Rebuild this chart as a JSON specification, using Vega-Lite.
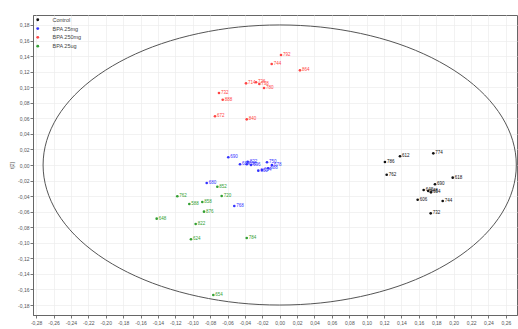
{
  "$schema": "https://vega.github.io/schema/vega-lite/v6.json",
  "width": 484,
  "height": 300,
  "autosize": "none",
  "padding": {"left": 33, "top": 15, "right": 1, "bottom": 14},
  "background": "white",
  "config": {
    "locale": {"number": {"decimal": ",", "thousands": ".", "grouping": [3], "currency": ["", ""], "minus": "-"}},
    "view": {"stroke": "#666666", "strokeWidth": 1},
    "font": "Liberation Sans"
  },
  "datasets": {
    "pts": [
      {"g": "BPA 250mg", "x": 0.0015, "y": 0.1414, "id": "792"},
      {"g": "BPA 250mg", "x": -0.0092, "y": 0.1298, "id": "744"},
      {"g": "BPA 250mg", "x": 0.0233, "y": 0.1217, "id": "864"},
      {"g": "BPA 250mg", "x": -0.0387, "y": 0.1050, "id": "714"},
      {"g": "BPA 250mg", "x": -0.0272, "y": 0.1063, "id": "726"},
      {"g": "BPA 250mg", "x": -0.0234, "y": 0.1041, "id": "738"},
      {"g": "BPA 250mg", "x": -0.0180, "y": 0.0990, "id": "780"},
      {"g": "BPA 250mg", "x": -0.0698, "y": 0.0925, "id": "732"},
      {"g": "BPA 250mg", "x": -0.0655, "y": 0.0839, "id": "888"},
      {"g": "BPA 250mg", "x": -0.0744, "y": 0.0626, "id": "672"},
      {"g": "BPA 250mg", "x": -0.0379, "y": 0.0587, "id": "840"},
      {"g": "BPA 25mg", "x": -0.0591, "y": 0.0099, "id": "690"},
      {"g": "BPA 25mg", "x": -0.0456, "y": 0.0009, "id": "684"},
      {"g": "BPA 25mg", "x": -0.0368, "y": 0.0042, "id": "822"},
      {"g": "BPA 25mg", "x": -0.0379, "y": 0.0009, "id": "666"},
      {"g": "BPA 25mg", "x": -0.0330, "y": 0.0, "id": "696"},
      {"g": "BPA 25mg", "x": -0.0246, "y": -0.0073, "id": "660"},
      {"g": "BPA 25mg", "x": -0.0203, "y": -0.0064, "id": "654"},
      {"g": "BPA 25mg", "x": -0.0146, "y": 0.0035, "id": "750"},
      {"g": "BPA 25mg", "x": -0.0131, "y": -0.0042, "id": "888"},
      {"g": "BPA 25mg", "x": -0.0089, "y": 0.0, "id": "678"},
      {"g": "BPA 25mg", "x": -0.0839, "y": -0.0231, "id": "680"},
      {"g": "BPA 25mg", "x": -0.0522, "y": -0.0527, "id": "768"},
      {"g": "BPA 25ug", "x": -0.0717, "y": -0.0279, "id": "852"},
      {"g": "BPA 25ug", "x": -0.1177, "y": -0.0402, "id": "762"},
      {"g": "BPA 25ug", "x": -0.0667, "y": -0.0398, "id": "720"},
      {"g": "BPA 25ug", "x": -0.1039, "y": -0.0501, "id": "588"},
      {"g": "BPA 25ug", "x": -0.0890, "y": -0.0476, "id": "858"},
      {"g": "BPA 25ug", "x": -0.0870, "y": -0.0600, "id": "876"},
      {"g": "BPA 25ug", "x": -0.1414, "y": -0.0690, "id": "648"},
      {"g": "BPA 25ug", "x": -0.0966, "y": -0.0758, "id": "822"},
      {"g": "BPA 25ug", "x": -0.1020, "y": -0.0955, "id": "624"},
      {"g": "BPA 25ug", "x": -0.0379, "y": -0.0938, "id": "784"},
      {"g": "BPA 25ug", "x": -0.0763, "y": -0.1671, "id": "654"},
      {"g": "Control", "x": 0.1210, "y": 0.0039, "id": "786"},
      {"g": "Control", "x": 0.1383, "y": 0.0112, "id": "612"},
      {"g": "Control", "x": 0.1766, "y": 0.0150, "id": "774"},
      {"g": "Control", "x": 0.1230, "y": -0.0125, "id": "762"},
      {"g": "Control", "x": 0.1989, "y": -0.0163, "id": "618"},
      {"g": "Control", "x": 0.1785, "y": -0.0248, "id": "690"},
      {"g": "Control", "x": 0.1655, "y": -0.0321, "id": "642"},
      {"g": "Control", "x": 0.1708, "y": -0.0334, "id": "648"},
      {"g": "Control", "x": 0.1739, "y": -0.0351, "id": "654"},
      {"g": "Control", "x": 0.1586, "y": -0.0446, "id": "606"},
      {"g": "Control", "x": 0.1874, "y": -0.0463, "id": "744"},
      {"g": "Control", "x": 0.1736, "y": -0.0621, "id": "732"}
    ],
    "ell": [
      {"i": 0, "x": 0.272, "y": 0},
      {"i": 1, "x": 0.2679, "y": 0.0312},
      {"i": 2, "x": 0.2556, "y": 0.0616},
      {"i": 3, "x": 0.2356, "y": 0.09},
      {"i": 4, "x": 0.2084, "y": 0.1157},
      {"i": 5, "x": 0.1748, "y": 0.1379},
      {"i": 6, "x": 0.136, "y": 0.1559},
      {"i": 7, "x": 0.093, "y": 0.1691},
      {"i": 8, "x": 0.0472, "y": 0.1773},
      {"i": 9, "x": 0, "y": 0.18},
      {"i": 10, "x": -0.0472, "y": 0.1773},
      {"i": 11, "x": -0.093, "y": 0.1691},
      {"i": 12, "x": -0.136, "y": 0.1559},
      {"i": 13, "x": -0.1748, "y": 0.1379},
      {"i": 14, "x": -0.2084, "y": 0.1157},
      {"i": 15, "x": -0.2356, "y": 0.09},
      {"i": 16, "x": -0.2556, "y": 0.0616},
      {"i": 17, "x": -0.2679, "y": 0.0312},
      {"i": 18, "x": -0.272, "y": 0},
      {"i": 19, "x": -0.2679, "y": -0.0312},
      {"i": 20, "x": -0.2556, "y": -0.0616},
      {"i": 21, "x": -0.2356, "y": -0.09},
      {"i": 22, "x": -0.2084, "y": -0.1157},
      {"i": 23, "x": -0.1748, "y": -0.1379},
      {"i": 24, "x": -0.136, "y": -0.1559},
      {"i": 25, "x": -0.093, "y": -0.1691},
      {"i": 26, "x": -0.0472, "y": -0.1773},
      {"i": 27, "x": 0, "y": -0.18},
      {"i": 28, "x": 0.0472, "y": -0.1773},
      {"i": 29, "x": 0.093, "y": -0.1691},
      {"i": 30, "x": 0.136, "y": -0.1559},
      {"i": 31, "x": 0.1748, "y": -0.1379},
      {"i": 32, "x": 0.2084, "y": -0.1157},
      {"i": 33, "x": 0.2356, "y": -0.09},
      {"i": 34, "x": 0.2556, "y": -0.0616},
      {"i": 35, "x": 0.2679, "y": -0.0312}
    ]
  },
  "encoding": {
    "x": {
      "type": "quantitative",
      "scale": {"domain": [-0.2836, 0.2728], "nice": false, "zero": false},
      "axis": {
        "title": null,
        "values": [-0.28, -0.26, -0.24, -0.22, -0.2, -0.18, -0.16, -0.14, -0.12, -0.1, -0.08, -0.06, -0.04, -0.02, 0, 0.02, 0.04, 0.06, 0.08, 0.1, 0.12, 0.14, 0.16, 0.18, 0.2, 0.22, 0.24, 0.26],
        "format": ".2f",
        "labelFontSize": 5,
        "labelColor": "#555555",
        "labelPadding": 2,
        "tickSize": 3,
        "tickColor": "#777777",
        "domainColor": "#666666",
        "gridColor": "#ececec",
        "gridWidth": 0.7,
        "labelFlush": false,
        "labelOverlap": false
      }
    },
    "y": {
      "type": "quantitative",
      "scale": {"domain": [-0.1928, 0.1928], "nice": false, "zero": false},
      "axis": {
        "title": "t[2]",
        "titleFontSize": 5,
        "titleFontWeight": "normal",
        "titleColor": "#555555",
        "titlePadding": 3,
        "values": [-0.18, -0.16, -0.14, -0.12, -0.1, -0.08, -0.06, -0.04, -0.02, 0, 0.02, 0.04, 0.06, 0.08, 0.1, 0.12, 0.14, 0.16, 0.18],
        "format": ".2f",
        "labelFontSize": 5,
        "labelColor": "#555555",
        "labelPadding": 1,
        "tickSize": 3,
        "tickColor": "#777777",
        "domainColor": "#666666",
        "gridColor": "#ececec",
        "gridWidth": 0.7,
        "labelFlush": false,
        "labelOverlap": false
      }
    }
  },
  "layer": [
    {
      "data": {"name": "ell"},
      "mark": {"type": "line", "interpolate": "cardinal-closed", "color": "#555555", "strokeWidth": 1},
      "encoding": {
        "x": {"field": "x", "type": "quantitative"},
        "y": {"field": "y", "type": "quantitative"},
        "order": {"field": "i", "type": "quantitative"}
      }
    },
    {
      "mark": {"type": "rule", "color": "#777777", "strokeWidth": 1.2},
      "encoding": {"x": {"datum": 0}}
    },
    {
      "mark": {"type": "rule", "color": "#777777", "strokeWidth": 1.2},
      "encoding": {"y": {"datum": 0}}
    },
    {
      "data": {"name": "pts"},
      "mark": {"type": "point", "filled": true, "shape": "circle", "size": 7, "opacity": 1},
      "encoding": {
        "x": {"field": "x", "type": "quantitative"},
        "y": {"field": "y", "type": "quantitative"},
        "color": {
          "field": "g",
          "type": "nominal",
          "scale": {"domain": ["Control", "BPA 25mg", "BPA 250mg", "BPA 25ug"], "range": ["#111111", "#3333ff", "#ff4444", "#33a033"]},
          "legend": {
            "title": null,
            "orient": "none",
            "legendX": 2,
            "legendY": 2,
            "labelFontSize": 5.5,
            "labelColor": "#444444",
            "symbolSize": 8,
            "symbolType": "circle",
            "labelOffset": 12,
            "rowPadding": 1.8,
            "padding": 0
          }
        }
      }
    },
    {
      "data": {"name": "pts"},
      "mark": {"type": "text", "align": "left", "baseline": "middle", "dx": 2, "fontSize": 4.5},
      "encoding": {
        "x": {"field": "x", "type": "quantitative"},
        "y": {"field": "y", "type": "quantitative"},
        "text": {"field": "id"},
        "color": {"field": "g", "type": "nominal", "legend": null}
      }
    }
  ]
}
